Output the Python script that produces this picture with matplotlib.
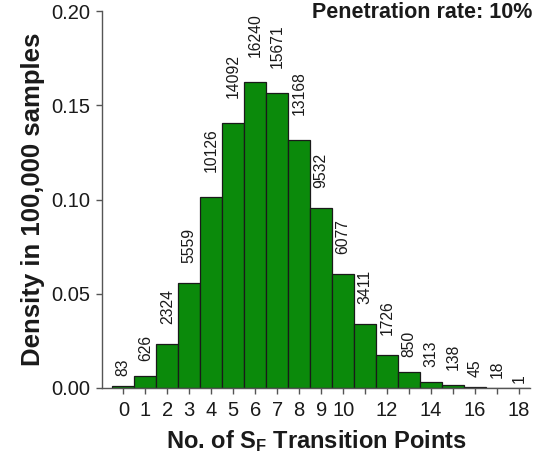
import matplotlib
matplotlib.use("Agg")
import matplotlib.pyplot as plt
import numpy as np

plt.rcParams["font.family"] = ["Liberation Sans", "DejaVu Sans"]
plt.rcParams["mathtext.fontset"] = "custom"
plt.rcParams["mathtext.rm"] = "Liberation Sans"
plt.rcParams["mathtext.bf"] = "Liberation Sans:bold"

# data
points = list(range(19))
counts = [83, 626, 2324, 5559, 10126, 14092, 16240, 15671, 13168, 9532,
          6077, 3411, 1726, 850, 313, 138, 45, 18, 1]
n_samples = 100000
tick_labels = ["0", "1", "2", "3", "4", "5", "6", "7", "8", "9", "10",
               "", "12", "", "14", "", "16", "", "18"]

density = np.array(counts) / n_samples

fig = plt.figure(figsize=(5.4, 4.61), dpi=100)
ax = fig.add_axes([0.1889, 0.1584, 0.7926, 0.8171])

ax.bar(points, density, width=1.0, color="#0b8a0b", edgecolor="#1a1a1a",
       linewidth=0.9)

# count labels, rotated, gap grows with label length like the original
for x, h, c in zip(points, density, counts):
    s = str(c)
    ax.annotate(s, xy=(x, h), xytext=(0, 3.6 * len(s)),
                textcoords="offset points", rotation=90,
                ha="center", va="bottom", fontsize=11.3, color="#1a1a1a")

ax.set_xlim(-0.97, 18.5)
ax.set_ylim(0, 0.2)
ax.set_xticks(points)
ax.set_xticklabels(tick_labels)
ax.set_yticks([0.0, 0.05, 0.10, 0.15, 0.20])
ax.set_yticklabels(["0.00", "0.05", "0.10", "0.15", "0.20"])

for side in ["top", "right"]:
    ax.spines[side].set_visible(False)
ax.spines["left"].set_color("#555555")
ax.spines["bottom"].set_color("#555555")
ax.spines["left"].set_linewidth(1.0)
ax.spines["bottom"].set_linewidth(1.0)

ax.tick_params(axis="both", direction="out", length=4.3, width=1.0,
               color="#555555", labelsize=14.5, labelcolor="#1a1a1a")
ax.tick_params(axis="x", pad=5)
ax.tick_params(axis="y", pad=4)

ax.set_xlabel(r"No. of $\mathbf{S_F}$ Transition Points", fontsize=17,
              fontweight="bold", color="#1a1a1a", labelpad=6)
ax.set_ylabel("Density in 100,000 samples", fontsize=18.5, fontweight="bold",
              color="#1a1a1a", labelpad=5)

fig.text(0.985, 0.995, "Penetration rate: 10%", ha="right", va="top",
         fontsize=15.5, fontweight="bold", color="#1a1a1a")

fig.savefig("out.png", dpi=100)
